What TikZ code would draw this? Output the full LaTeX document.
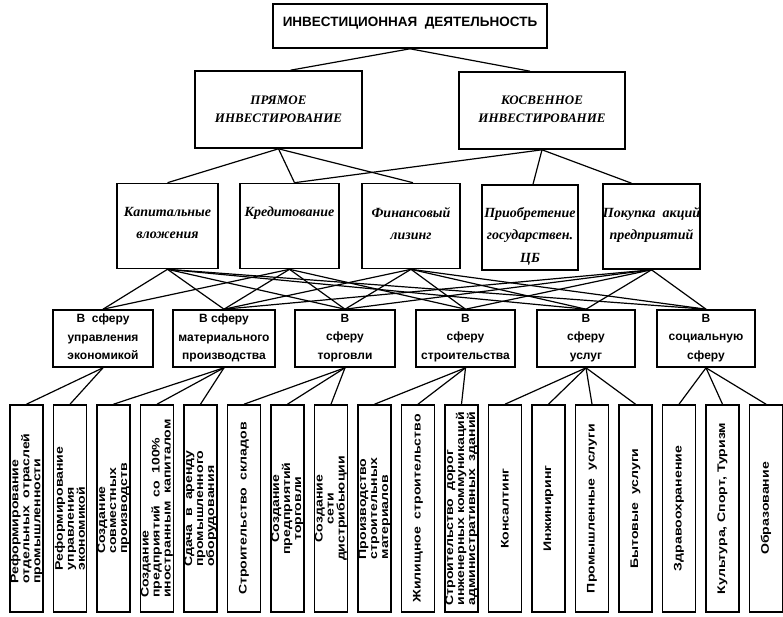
\documentclass[tikz,border=0pt]{standalone}
\usepackage{fontspec}
\setmainfont{Liberation Serif}
\setsansfont{Liberation Sans}
\newfontfamily\leaffont[FakeStretch=1.28]{Liberation Sans}
\begin{document}
\begin{tikzpicture}[x=1pt,y=-1pt]
\tikzset{
  frame/.style={draw, line width=1.6pt, inner sep=0pt},
  link/.style={line width=1.2pt},
  topstyle/.style={font=\sffamily\bfseries\fontsize{13.5}{16}\selectfont, inner sep=0pt},
  formstyle/.style={font=\rmfamily\bfseries\itshape\fontsize{13}{18}\selectfont, align=center, inner sep=0pt},
  waystyle/.style={font=\rmfamily\bfseries\itshape\fontsize{14}{22.5}\selectfont, align=center, inner sep=0pt},
  spherestyle/.style={font=\sffamily\bfseries\fontsize{12}{18.5}\selectfont, align=center, inner sep=0pt},
  leafstyle/.style={font=\leaffont\bfseries\fontsize{11}{11}\selectfont, align=left, inner sep=0pt, rotate=90},
}
\useasboundingbox (0,0) rectangle (783,616);

% level 1
\node[frame, minimum width=274, minimum height=44] (top) at (410,26) {};
\node[topstyle, anchor=base] (topT) at (410,26) {ИНВЕСТИЦИОННАЯ\ \ ДЕЯТЕЛЬНОСТЬ};

% level 2: forms of investment
\node[frame, minimum width=167, minimum height=77] (pr) at (278.5,109.5) {};
\node[frame, minimum width=166, minimum height=77] (ko) at (542,110.5) {};
\node[formstyle, anchor=north] (prT) at (278.5,95.5) {ПРЯМОЕ\\ИНВЕСТИРОВАНИЕ};
\node[formstyle, anchor=north] (koT) at (542,95.5) {КОСВЕННОЕ\\ИНВЕСТИРОВАНИЕ};

% level 3: ways of investing
\node[frame, minimum width=101, minimum height=85] (kap) at (167.5,226) {};
\node[frame, minimum width=99, minimum height=85] (kred) at (289.5,226) {};
\node[frame, minimum width=98, minimum height=85] (fin) at (411,226) {};
\node[frame, minimum width=96, minimum height=85] (pri) at (530,227.5) {};
\node[frame, minimum width=97, minimum height=85] (pok) at (651.5,226.5) {};
\node[waystyle, anchor=north] (kapT) at (167.5,207) {Капитальные\\вложения};
\node[waystyle, anchor=north] (kredT) at (289.5,207) {Кредитование};
\node[waystyle, anchor=north] (finT) at (411,207) {Финансовый\\лизинг};
\node[waystyle, anchor=north] (priT) at (530,207) {Приобретение\\государствен.\\ЦБ};
\node[waystyle, anchor=north] (pokT) at (651.5,207) {Покупка\ \ акций\\предприятий};

% level 4: spheres
\foreach \n/\x/\w in {s1/103/100, s2/224/102, s3/345/100, s4/465.5/99, s5/586/98, s6/706/98}
  \node[frame, minimum width=\w, minimum height=57] (\n) at (\x,338.5) {};
\node[spherestyle, anchor=north] (s1T) at (s1.north |- 0,314) {В\ \ сферу\\управления\\экономикой};
\node[spherestyle, anchor=north] (s2T) at (s2.north |- 0,314) {В сферу\\материального\\производства};
\node[spherestyle, anchor=north] (s3T) at (s3.north |- 0,314) {В\\сферу\\торговли};
\node[spherestyle, anchor=north] (s4T) at (s4.north |- 0,314) {В\\сферу\\строительства};
\node[spherestyle, anchor=north] (s5T) at (s5.north |- 0,314) {В\\сферу\\услуг};
\node[spherestyle, anchor=north] (s6T) at (s6.north |- 0,314) {В\\социальную\\сферу};

% level 5: directions
\foreach \i in {1,...,18}
  \node[frame, minimum width=33, minimum height=207] (L\i) at ({26.5+43.5*(\i-1)},508.5) {};
\node[leafstyle] (L1T) at (L1) {Реформирование\\отдельных\ \ отраслей\\промышленности};
\node[leafstyle] (L2T) at (L2) {Реформирование\\управления\\экономикой};
\node[leafstyle] (L3T) at (L3) {Создание\\совместных\\производств};
\node[leafstyle] (L4T) at (L4) {Создание\\предприятий\ \ со\ \ 100\%\\иностранным\ \ капиталом};
\node[leafstyle] (L5T) at (L5) {Сдача\ \ в\ \ аренду\\промышленного\\оборудования};
\node[leafstyle] (L6T) at (L6) {Строительство\ \ складов};
\node[leafstyle, align=center] (L7T) at (L7) {Создание\\предприятий\\торговли};
\node[leafstyle, align=center] (L8T) at (L8) {Создание\\сети\\дистрибьюции};
\node[leafstyle] (L9T) at (L9) {Производство\\строительных\\материалов};
\node[leafstyle] (L10T) at (L10) {Жилищное\ \ строительство};
\node[leafstyle] (L11T) at (L11) {Строительство\ \ дорог\\инженерных коммуникаций\\административных\ \ зданий};
\node[leafstyle] (L12T) at (L12) {Консалтинг};
\node[leafstyle] (L13T) at (L13) {Инжиниринг};
\node[leafstyle] (L14T) at (L14) {Промышленные\ \ услуги};
\node[leafstyle] (L15T) at (L15) {Бытовые\ \ услуги};
\node[leafstyle] (L16T) at (L16) {Здравоохранение};
\node[leafstyle] (L17T) at (L17) {Культура,\ Спорт,\ Туризм};
\node[leafstyle] (L18T) at (L18) {Образование};

% connectors: level 1 -> 2
\draw[link] (top.south) -- ([xshift=12]pr.north);
\draw[link] (top.south) -- ([xshift=-12]ko.north);
% level 2 -> 3
\foreach \t/\s in {kap/0, kred/5, fin/2}
  \draw[link] (pr.south) -- ([xshift=\s]\t.north);
\foreach \t/\s in {kred/5, pri/3, pok/-20}
  \draw[link] (ko.south) -- ([xshift=\s]\t.north);
% level 3 -> 4
\foreach \a/\b in {kap/s1, kap/s2, kap/s3, kap/s5, kap/s6,
                   kred/s1, kred/s2, kred/s3, kred/s4,
                   fin/s2, fin/s3, fin/s4, fin/s5, fin/s6,
                   pok/s2, pok/s3, pok/s4, pok/s5, pok/s6}
  \draw[link] (\a.south) -- (\b.north);
% level 4 -> 5
\foreach \a/\b in {s1/L1, s1/L2, s2/L3, s2/L4, s2/L5, s3/L6, s3/L7, s3/L8,
                   s4/L9, s4/L10, s4/L11, s5/L12, s5/L13, s5/L14, s5/L15,
                   s6/L16, s6/L17, s6/L18}
  \draw[link] (\a.south) -- (\b.north);
\end{tikzpicture}
\end{document}
